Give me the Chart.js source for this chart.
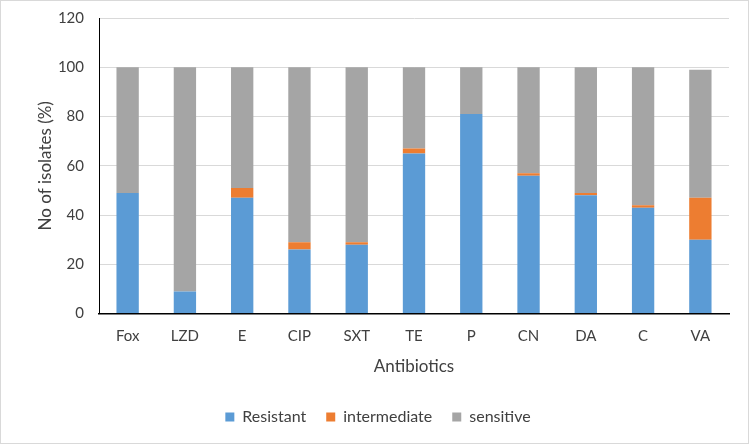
<!DOCTYPE html>
<html>
<head>
<meta charset="utf-8">
<script src="https://cdn.jsdelivr.net/npm/chart.js@4.4.0/dist/chart.umd.min.js"></script>
<style>
  html, body { margin: 0; padding: 0; background: #fff; }
  #wrap { position: relative; width: 747px; height: 442px; border: 1px solid #d9d9d9; }
</style>
</head>
<body>
<div id="wrap"><canvas id="chart"></canvas></div>
<script>
// Antibióticos testados
const antibiotics = ['Fox', 'LZD', 'E', 'CIP', 'SXT', 'TE', 'P', 'CN', 'DA', 'C', 'VA'];

// Percentual de isolados por categoria
const resistant    = [49, 9, 47, 26, 28, 65, 81, 56, 48, 43, 30];
const intermediate = [0, 0, 4, 3, 1, 2, 0, 1, 1, 1, 17];
const sensitive    = [51, 91, 49, 71, 71, 33, 19, 43, 51, 56, 52];

const yTicks = [0, 20, 40, 60, 80, 100, 120];

const fonte = 'Lato, "Open Sans", sans-serif';
const corTexto = '#404040';

const ctx = document.getElementById('chart').getContext('2d');
new Chart(ctx, {
    type: 'bar',
    data: {
        labels: antibiotics,
        datasets: [
            { label: 'Resistant', data: resistant, backgroundColor: '#5b9bd5' },
            { label: 'intermediate', data: intermediate, backgroundColor: '#ed7d31' },
            { label: 'sensitive', data: sensitive, backgroundColor: '#a5a5a5' }
        ]
    },
    options: {
        responsive: true,
        maintainAspectRatio: false,
        animation: false,
        datasets: { bar: { barPercentage: 0.39, categoryPercentage: 1.0 } },
        layout: { padding: { top: 17, right: 19, bottom: 8, left: 26 } },
        plugins: {
            tooltip: { enabled: false },
            legend: {
                position: 'bottom',
                labels: {
                    font: { family: fonte, size: 16 },
                    color: corTexto,
                    boxWidth: 9,
                    boxHeight: 9,
                    padding: 20
                }
            }
        },
        scales: {
            x: {
                stacked: true,
                grid: { display: false, drawTicks: false },
                border: { color: '#000', width: 1.5 },
                ticks: { font: { family: fonte, size: 15 }, color: corTexto, padding: 14 },
                title: {
                    display: true,
                    text: 'Antibiotics',
                    font: { family: fonte, size: 17 },
                    color: corTexto,
                    padding: { top: -3, bottom: 12 }
                }
            },
            y: {
                stacked: true,
                min: 0,
                max: 120,
                afterFit: function (scale) { scale.width = 72; },
                afterBuildTicks: function (scale) {
                    scale.ticks = yTicks.map(v => ({ value: v }));
                },
                grid: { color: '#d9d9d9', drawTicks: true, tickLength: 14, tickColor: 'rgba(0,0,0,0)' },
                border: { color: '#000', width: 1 },
                ticks: { font: { family: fonte, size: 15 }, color: corTexto, padding: 1 },
                title: {
                    display: true,
                    text: 'No of isolates (%)',
                    font: { family: fonte, size: 17 },
                    color: corTexto,
                    padding: { top: 8, bottom: 0 }
                }
            }
        }
    }
});
</script>
</body>
</html>
